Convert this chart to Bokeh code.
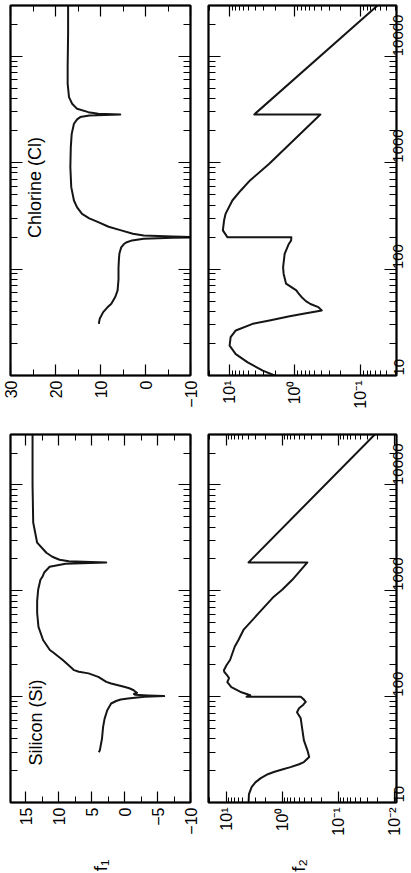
import math
from bokeh.plotting import figure
from bokeh.models import FixedTicker, LinearAxis, LogAxis, Range1d, Label
from bokeh.layouts import row, column
from bokeh.embed import file_html
from bokeh.resources import INLINE

# ---------------- data ----------------
# Chlorine f1
cl_f1_energy = [30.6, 32, 34.3, 39.4, 43.5, 47.2, 55, 63, 80, 103, 125, 140, 160, 172, 178,
                186, 193, 197, 199, 202, 207, 215, 231, 250, 276, 300, 330, 380, 441, 589,
                908, 1400, 1864, 2322, 2550, 2682, 2780, 2838, 2880, 2985, 3207, 3583, 4130,
                5520, 8000, 16200, 30000]
cl_f1 = [10.35, 10.3, 10.15, 9.4, 8.5, 7.6, 6.7, 6.2, 6.0, 6.0, 5.9, 5.8, 5.4, 4.8, 4.3,
         3.0, 0.4, -6.0, -14.0, -6.0, 0.4, 2.8, 5.4, 8.2, 10.5, 12.5, 14.1, 15.2, 15.9, 16.5,
         16.7, 16.6, 16.4, 15.9, 15.2, 14.5, 12.5, 5.6, 10.5, 12.7, 15.2, 16.3, 17.0,
         17.3, 17.3, 17.2, 17.2]

# Chlorine f2
cl_f2_energy = [10, 11.1, 13.3, 15.9, 19.1, 22.9, 26.5, 30.6, 32.9, 36, 38, 40.8, 43.9, 47,
                50, 55, 59, 63, 73, 90, 104, 139, 170, 186, 199, 199.5, 231, 286, 330, 441,
                548, 681, 977, 2840, 2841, 30000]
cl_f2 = [2.03, 3.07, 5.2, 7.9, 9.8, 9.45, 7.9, 4.38, 2.43, 1.2, 0.745, 0.39, 0.44, 0.58,
         0.68, 0.8, 0.88, 0.95, 1.36, 1.48, 1.51, 1.43, 1.25, 1.14, 1.13, 10.6, 12.4, 11.9,
         11.3, 8.9, 6.63, 4.8, 2.45, 0.41, 4.13, 0.0555]

# Silicon f1
si_f1_energy = [29.8, 31.1, 40, 51.8, 62, 74.5, 86.2, 91, 94, 96, 98.2, 100, 101.2, 102.5,
                104, 106, 109, 112, 115, 120, 124, 133, 138, 154, 166, 172, 178, 200, 222,
                263, 276, 343, 456, 617, 800, 1024, 1271, 1357, 1500, 1690, 1800, 1855, 1900,
                1966, 2100, 2290, 2850, 4416, 10000, 30000]
si_f1 = [3.93, 3.78, 3.45, 3.28, 3.05, 2.65, 2.06, 1.3, 0.6, -0.5, -1.9, -3.0, -6.0, -3.5,
         -1.6, -1.4, -1.87, -1.6, -1.37, -0.7, 0.1, 2.06, 2.79, 4.01, 5.49, 6.96, 7.69, 8.6, 9.41,
         10.9, 11.37, 12.4, 13.1, 13.3, 13.3, 13.15, 12.8, 12.5, 12.2, 11.4, 9.0, 2.8, 8.5,
         9.9, 11.0, 11.9, 13.3, 13.9, 14.0, 14.0]

# Silicon f2
si_f2_energy = [10, 12, 14, 15.5, 17, 18.5, 19.4, 20.5, 21.6, 23, 24.1, 26.9, 31.1, 38.7,
                50, 62.5, 71.3, 77.8, 84, 89.3, 95, 99.6, 100, 103, 110, 123, 137, 150, 160,
                171, 178, 199, 222, 296, 343, 427, 615, 881, 1024, 1271, 1855, 1856, 30000]
si_f2 = [3.97, 3.9, 3.5, 3.0, 2.4, 1.8, 1.41, 1.0, 0.71, 0.5, 0.41, 0.33, 0.355, 0.41,
         0.44, 0.467, 0.544, 0.5, 0.42, 0.38, 0.42, 0.467, 4.3, 3.7, 5.31, 8.03, 9.48, 8.83, 9.6,
         10.7, 10.9, 9.75, 8.47, 7.0, 6.0, 4.89, 2.62, 1.41, 1.0, 0.66, 0.355, 3.97, 0.0224]

# axis ticks and texts
energy_ticks = [10, 100, 1000, 10000]
energy_labels = ["10", "100", "1000", "10000"]
cl_f1_ticks = [30, 20, 10, 0, -10]
cl_f1_minor = [25, 15, 5, -5]
si_f1_ticks = [15, 10, 5, 0, -5, -10]
si_f1_minor = [12.5, 7.5, 2.5, -2.5, -7.5]
f2_ticks = [10, 1, 0.1, 0.01]
f2_labels = ["10\u00b9", "10\u2070", "10\u207b\u00b9", "10\u207b\u00b2"]
f1_title = "f\u2081"
f2_title = "f\u2082"
cl_name = "Chlorine (Cl)"
si_name = "Silicon (Si)"

energy_minor = [m * 10 ** k for k in range(1, 5) for m in range(2, 10) if m * 10 ** k <= 30000]
f2_minor = [m * 10.0 ** k for k in range(-3, 2) for m in range(2, 10)]

FONT = "Liberation Sans"
LINE = "#151515"


def minus(t):
    return ("%g" % t).replace("-", "\u2212")


def hide_labels(ax):
    ax.major_label_text_color = None
    ax.major_label_standoff = 0


def ticks_in(ax, major, minor):
    ax.major_tick_in = major
    ax.major_tick_out = 0
    ax.minor_tick_in = minor
    ax.minor_tick_out = 0
    ax.axis_line_color = "black"
    ax.axis_line_width = 1.5
    ax.major_tick_line_color = "black"
    ax.minor_tick_line_color = "black"
    ax.major_tick_line_width = 1.2
    ax.minor_tick_line_width = 1.0
    ax.major_label_text_font = FONT
    ax.major_label_text_color = "black"


def panel(x_log, x_start, x_end, ticks, minor, labels, energies, values,
          width, height, borders, show_energy_labels, xmaj, xmin):
    p = figure(width=width, height=height,
               x_axis_type="log" if x_log else "linear", y_axis_type="log",
               x_range=Range1d(x_start, x_end), y_range=Range1d(10, 30000),
               output_backend="svg", toolbar_location=None,
               min_border_left=borders[0], min_border_right=borders[1],
               min_border_top=borders[2], min_border_bottom=borders[3])
    p.grid.visible = False
    p.outline_line_color = "black"
    p.outline_line_width = 2
    p.background_fill_color = "white"
    p.border_fill_color = "white"

    xb = p.xaxis[0]
    yl = p.yaxis[0]
    xa = LogAxis() if x_log else LinearAxis()
    p.add_layout(xa, "above")
    yr = LogAxis()
    p.add_layout(yr, "right")

    for ax in (xb, xa):
        ax.ticker = FixedTicker(ticks=ticks, minor_ticks=minor)
        ticks_in(ax, xmaj, xmin)
    for ax in (yl, yr):
        ax.ticker = FixedTicker(ticks=energy_ticks, minor_ticks=energy_minor)
        ticks_in(ax, 12, 7)

    xb.major_label_overrides = dict(zip(ticks, labels))
    xb.major_label_orientation = math.pi / 2
    xb.major_label_text_font_size = "16px"
    xb.major_label_standoff = 5
    hide_labels(xa)
    hide_labels(yl)
    if show_energy_labels:
        yr.major_label_overrides = dict(zip(energy_ticks, energy_labels))
        yr.major_label_orientation = math.pi / 2
        yr.major_label_text_font_size = "15px"
        yr.major_label_standoff = 2
    else:
        hide_labels(yr)

    p.line(x=values, y=energies, line_color=LINE, line_width=2, line_join="round")
    return p


def title_strip(text, width, height, cx, cy):
    t = figure(width=width, height=height, x_range=Range1d(0, width), y_range=Range1d(0, height),
               output_backend="svg", toolbar_location=None, min_border=0,
               x_axis_location=None, y_axis_location=None)
    t.grid.visible = False
    t.outline_line_color = None
    t.background_fill_color = "white"
    t.border_fill_color = "white"
    t.add_layout(Label(x=cx, y=cy, text=text, angle=math.pi / 2,
                       text_align="center", text_baseline="middle",
                       text_font=FONT, text_font_size="19px", text_color="black"))
    return t


p_cl1 = panel(False, 30, -10, cl_f1_ticks, cl_f1_minor, [minus(t) for t in cl_f1_ticks],
              cl_f1_energy, cl_f1, 200, 430, (10, 10, 5, 55), False, 11, 6)
p_cl2 = panel(True, 20.5, 0.0286, f2_ticks, f2_minor, f2_labels,
              cl_f2_energy, cl_f2, 211, 430, (8, 14, 5, 55), True, 11, 5)
p_si1 = panel(False, 17.35, -10, si_f1_ticks, si_f1_minor, [minus(t) for t in si_f1_ticks],
              si_f1_energy, si_f1, 200, 413, (10, 10, 4, 41), False, 11, 6)
p_si2 = panel(True, 20.5, 0.0092, f2_ticks, f2_minor, f2_labels,
              si_f2_energy, si_f2, 211, 413, (8, 14, 4, 41), True, 11, 5)

p_cl1.add_layout(Label(x=24.5, y=585, text=cl_name, angle=math.pi / 2,
                       text_align="center", text_baseline="middle",
                       text_font=FONT, text_font_size="18px", text_color="black"))
p_si1.add_layout(Label(x=13.5, y=57, text=si_name, angle=math.pi / 2,
                       text_align="center", text_baseline="middle",
                       text_font=FONT, text_font_size="18px", text_color="black"))

t1 = title_strip(f1_title, 200, 30, 100, 8)
t2 = title_strip(f2_title, 211, 30, 98, 8)

layout = column(row(p_cl1, p_cl2), row(p_si1, p_si2), row(t1, t2))

open("out.html", "w").write(file_html(layout, INLINE))
